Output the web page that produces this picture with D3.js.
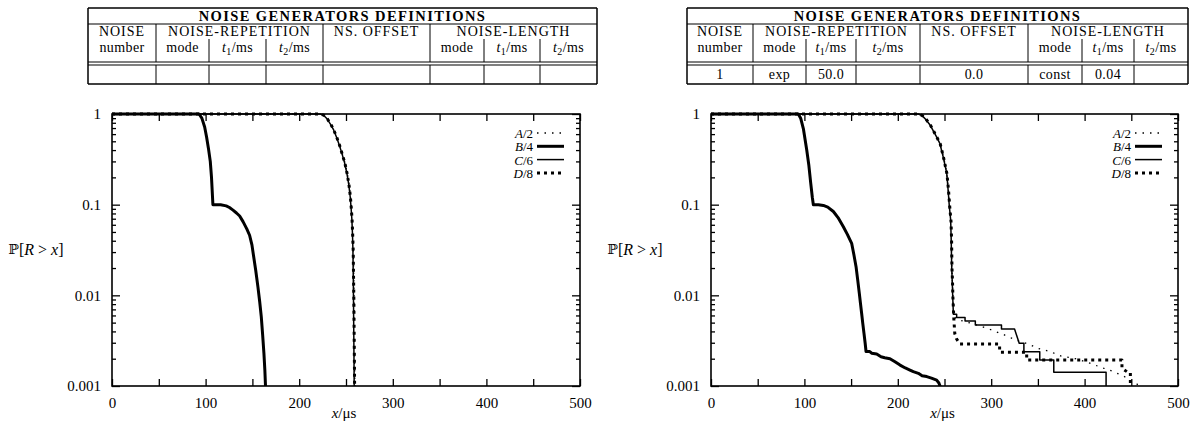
<!DOCTYPE html>
<html>
<head>
<meta charset="utf-8">
<script src="https://cdn.jsdelivr.net/npm/d3@7"></script>
<style>
  body { margin: 0; background: #fff; }
  text { font-family: "Liberation Serif", "DejaVu Serif", serif; fill: #000; }
</style>
</head>
<body>
<div id="chart"></div>
<script>
// series names and tick labels
const seriesNames = ["A/2", "B/4", "C/6", "D/8"];
const xTickLabels = [0, 100, 200, 300, 400, 500];
const yTickLabels = [1, 0.1, 0.01, 0.001];

// table text
const tableTitle = "NOISE GENERATORS DEFINITIONS";
const groupHeaders = ["NOISE", "NOISE-REPETITION", "NS. OFFSET", "NOISE-LENGTH"];
const subHeaders = ["number", "mode", "t1/ms", "t2/ms", "", "mode", "t1/ms", "t2/ms"];
const leftTableRow = ["", "", "", "", "", "", "", ""];
const rightTableRow = ["1", "exp", "50.0", "", "0.0", "const", "0.04", ""];

// left plot curves, [x in us, P[R>x]]
const leftA = [[0,1],[222.8,1],[226.5,0.97],[230.5,0.88],[234,0.77],[237.2,0.66],[240.4,0.55],[243.4,0.45],[246,0.365],[248.9,0.29],[251.4,0.22],[253.4,0.165],[254.9,0.122],[255.9,0.09],[256.7,0.068],[257.4,0.045],[257.9,0.031],[258.3,0.015],[258.6,0.009],[259,0.003],[259.5,0.0008]];
const leftB = [[0,1],[93,1],[96,0.9],[99,0.72],[101,0.56],[103,0.42],[105,0.3],[106.3,0.2],[107,0.145],[107.8,0.1],[110,0.1],[116,0.1],[122,0.097],[125.5,0.093],[129.3,0.087],[133,0.081],[136.4,0.075],[140,0.065],[144,0.054],[147,0.046],[149.5,0.036],[151.3,0.027],[153.5,0.019],[155.9,0.0124],[157.8,0.0085],[159.5,0.0058],[161,0.0036],[162.3,0.0023],[163.3,0.0015],[164,0.001],[164.3,0.0008]];
const leftC = [[0,1],[222.5,1],[226,0.97],[230,0.88],[233.5,0.77],[236.8,0.667],[240,0.55],[243,0.45],[245.6,0.368],[248.5,0.29],[251,0.22],[253,0.165],[254.5,0.122],[255.5,0.09],[256.3,0.068],[257,0.045],[257.4,0.0316],[257.8,0.015],[258,0.0089],[258.4,0.003],[258.8,0.0008]];
const leftD = [[0,1],[222.6,1],[226.2,0.97],[230.2,0.88],[233.8,0.77],[237,0.665],[240.2,0.55],[243.2,0.45],[245.8,0.366],[248.7,0.29],[251.2,0.22],[253.2,0.165],[254.7,0.122],[255.7,0.09],[256.5,0.068],[257.2,0.045],[257.7,0.031],[258.1,0.015],[258.4,0.009],[258.8,0.003],[259.3,0.0008]];

// right plot curves
const rightA = [[0,1],[222.3,1],[226.3,0.96],[230.3,0.87],[235,0.76],[238.5,0.65],[242,0.56],[245.5,0.47],[249,0.34],[252.2,0.23],[254.3,0.14],[255.3,0.1],[256.7,0.07],[257.4,0.04],[257.8,0.021],[258.5,0.014],[259,0.01],[259.6,0.0065],[262,0.0055],[270,0.0052],[285,0.0047],[299,0.0042],[313,0.0037],[327,0.0032],[340,0.0029],[350,0.0026],[363,0.0024],[375,0.00214],[390,0.002],[402,0.00184],[416,0.00163],[431,0.00144],[444,0.00125],[452,0.00107],[461,0.00102],[465,0.0008]];
const rightB = [[0,1],[93.5,1],[96,0.9],[99,0.68],[102.5,0.4],[104.8,0.27],[106.8,0.172],[108.5,0.12],[109.6,0.1],[115,0.1],[120.3,0.098],[125,0.094],[131,0.084],[136,0.072],[141.7,0.057],[146,0.047],[150.6,0.0375],[153,0.028],[155.3,0.0207],[157,0.015],[158.8,0.0105],[160,0.0082],[161.3,0.0063],[162.5,0.0049],[163.8,0.0038],[165,0.003],[166,0.0024],[170,0.0024],[172,0.0023],[177.4,0.00225],[182,0.0021],[186,0.00205],[191.6,0.002],[197,0.00185],[202.4,0.0017],[208,0.00158],[213,0.0015],[216.6,0.00144],[222,0.00138],[226,0.0013],[231,0.00127],[236,0.00122],[241.6,0.00116],[244,0.00108],[245.2,0.001],[246,0.0008]];
const rightC = [[0,1],[222,1],[226,0.96],[230,0.87],[234.5,0.757],[238,0.65],[241.5,0.56],[245,0.475],[248.5,0.34],[251,0.26],[252.4,0.222],[254,0.14],[255.2,0.095],[256.6,0.068],[257.2,0.04],[257.7,0.0207],[258.3,0.014],[258.8,0.0097],[259.5,0.0062],[263,0.0062],[263,0.0057],[272,0.0057],[272,0.0052],[283,0.0052],[283,0.0047],[311,0.0047],[311,0.00425],[325,0.00425],[330,0.00296],[335,0.00296],[335,0.00239],[352,0.00239],[352,0.00194],[367,0.00194],[367,0.00142],[423,0.00142],[423,0.0008]];
const rightD = [[0,1],[222.4,1],[226.4,0.96],[230.4,0.87],[235,0.75],[238.6,0.64],[242,0.55],[245.4,0.47],[249,0.33],[252.6,0.22],[254.4,0.14],[255.6,0.095],[257,0.065],[257.6,0.04],[258,0.02],[258.6,0.014],[259,0.0095],[260,0.0055],[261,0.0038],[263,0.0033],[266.5,0.0029],[309,0.0029],[309,0.00236],[338,0.00236],[338,0.00194],[440,0.00194],[440,0.00157],[447,0.0014],[449,0.0014],[449,0.0008]];

const width = 1191, height = 429;
const svg = d3.select("#chart").append("svg")
    .attr("width", width).attr("height", height);
svg.append("rect").attr("width", width).attr("height", height).attr("fill", "#fff");

const styles = [
    {w: 1.3, dash: "1.5,6"},   // A dotted
    {w: 3, dash: null},        // B thick
    {w: 1.5, dash: null},      // C thin
    {w: 3, dash: "3,4"}        // D thick dotted
];

// ---------- tables ----------
function subText(sel, str) {
    // "t1/ms" -> italic t with subscript
    if (/^t\d\/ms$/.test(str)) {
        sel.append("tspan").style("font-style", "italic").text("t");
        sel.append("tspan").attr("dy", 3).style("font-size", "10px").text(str[1]);
        sel.append("tspan").attr("dy", -3).text("/ms");
    } else {
        sel.text(str);
    }
}

function drawTable(cols, row) {
    const g = svg.append("g");
    const top = 8, titleBot = 24, subTop = 39, headBot = 62, dataTop = 65, bot = 84;
    const L = cols[0], R = cols[cols.length - 1];
    const line = (x1, y1, x2, y2, w) => g.append("line")
        .attr("x1", x1).attr("y1", y1).attr("x2", x2).attr("y2", y2)
        .attr("stroke", "#000").attr("stroke-width", w || 1);

    line(L, top, R, top, 1.5);
    line(L, bot, R, bot, 1.5);
    line(L, top, L, bot, 1.5);
    line(R, top, R, bot, 1.5);
    line(L, titleBot, R, titleBot, 1.2);
    line(L, headBot, R, headBot, 1.2);
    line(L, dataTop, R, dataTop, 1.2);
    [1, 4, 5].forEach(i => line(cols[i], titleBot, cols[i], headBot));
    [2, 3, 6, 7].forEach(i => line(cols[i], subTop, cols[i], headBot));
    d3.range(1, cols.length - 1).forEach(i => line(cols[i], dataTop, cols[i], bot));

    g.append("text").attr("x", (L + R) / 2).attr("y", 21)
        .attr("text-anchor", "middle")
        .style("font-weight", "bold").style("font-size", "14.5px").style("letter-spacing", "1.4px")
        .text(tableTitle);

    const spans = [[0, 1], [1, 4], [4, 5], [5, 8]];
    groupHeaders.forEach((h, i) => {
        g.append("text").attr("x", (cols[spans[i][0]] + cols[spans[i][1]]) / 2).attr("y", 36)
            .attr("text-anchor", "middle")
            .style("font-size", "14px").style("letter-spacing", "1px").text(h);
    });
    subHeaders.forEach((h, i) => {
        const t = g.append("text").attr("x", (cols[i] + cols[i + 1]) / 2).attr("y", 51.5)
            .attr("text-anchor", "middle").style("font-size", "14px").style("letter-spacing", "0.4px");
        subText(t, h);
    });
    row.forEach((v, i) => {
        g.append("text").attr("x", (cols[i] + cols[i + 1]) / 2).attr("y", 79)
            .attr("text-anchor", "middle")
            .style("font-size", "14px").style("letter-spacing", "0.4px").text(v);
    });
}

drawTable([88, 156, 209, 266, 323, 430, 484, 540, 597], leftTableRow);
drawTable([687, 753, 806, 856, 920, 1028, 1082, 1134, 1188], rightTableRow);

// ---------- plots ----------
function drawPlot(x0, x1, series, id) {
    const y0 = 114, y1 = 386;
    const x = d3.scaleLinear().domain([0, 500]).range([x0, x1]);
    const y = d3.scaleLog().domain([0.001, 1]).range([y1, y0]);
    const g = svg.append("g");

    const majorX = d3.range(0, 501, 50);
    const minorY = y.ticks().filter(v => !yTickLabels.some(t => Math.abs(v - t) < 1e-9));

    // x ticks, bottom + top
    g.append("g").attr("transform", `translate(0,${y1})`)
        .call(d3.axisBottom(x).tickValues(majorX).tickSize(-7).tickPadding(11)
            .tickFormat(d => xTickLabels.includes(d) ? d : ""));
    g.append("g").attr("transform", `translate(0,${y0})`)
        .call(d3.axisTop(x).tickValues(majorX).tickSize(-7).tickFormat(""));
    // y ticks, left + right
    g.append("g").attr("transform", `translate(${x0},0)`)
        .call(d3.axisLeft(y).tickValues(yTickLabels).tickSize(-8).tickPadding(11)
            .tickFormat(d => String(d)));
    g.append("g").attr("transform", `translate(${x0},0)`)
        .call(d3.axisLeft(y).tickValues(minorY).tickSize(-4).tickFormat(""));
    g.append("g").attr("transform", `translate(${x1},0)`)
        .call(d3.axisRight(y).tickValues(yTickLabels).tickSize(-8).tickFormat(""));
    g.append("g").attr("transform", `translate(${x1},0)`)
        .call(d3.axisRight(y).tickValues(minorY).tickSize(-4).tickFormat(""));

    g.selectAll(".domain").remove();
    g.selectAll(".tick line").attr("stroke", "#000").attr("stroke-width", 1.3);
    g.selectAll(".tick text").style("font-family", "Liberation Serif").style("font-size", "15px").attr("fill", "#000");

    // clip + curves
    svg.append("clipPath").attr("id", id).append("rect")
        .attr("x", x0).attr("y", y0 - 2).attr("width", x1 - x0).attr("height", y1 - y0 + 2);
    const line = d3.line().x(d => x(d[0])).y(d => y(Math.max(d[1], 0.0008)));
    const cg = g.append("g").attr("clip-path", `url(#${id})`);
    series.forEach((s, i) => {
        cg.append("path").datum(s).attr("d", line)
            .attr("fill", "none").attr("stroke", "#000")
            .attr("stroke-width", styles[i].w)
            .attr("stroke-linejoin", "round")
            .attr("stroke-dasharray", styles[i].dash);
    });

    // frame
    g.append("rect").attr("x", x0).attr("y", y0).attr("width", x1 - x0).attr("height", y1 - y0)
        .attr("fill", "none").attr("stroke", "#000").attr("stroke-width", 1.6);

    // legend
    seriesNames.forEach((name, i) => {
        const ly = 133 + i * 13.3;
        const t = g.append("text").attr("x", x1 - 47).attr("y", ly)
            .attr("text-anchor", "end").attr("dominant-baseline", "central").style("font-size", "13px");
        t.append("tspan").style("font-style", "italic").text(name[0]);
        t.append("tspan").text(name.slice(1));
        g.append("line").attr("x1", x1 - 43).attr("x2", x1 - 16).attr("y1", ly).attr("y2", ly)
            .attr("stroke", "#000").attr("stroke-width", styles[i].w)
            .attr("stroke-dasharray", styles[i].dash);
    });

    // axis labels
    const xl = g.append("text").attr("x", (x0 + x1) / 2 - 2).attr("y", 418)
        .attr("text-anchor", "middle").style("font-size", "15px");
    xl.append("tspan").style("font-style", "italic").text("x");
    xl.append("tspan").text("/μs");

    const yl = g.append("text").attr("x", x0 - 76).attr("y", 249)
        .attr("text-anchor", "middle").attr("dominant-baseline", "central").style("font-size", "16px");
    yl.append("tspan").style("font-family", "DejaVu Serif").style("font-size", "14px").text("ℙ");
    yl.append("tspan").text("[");
    yl.append("tspan").style("font-style", "italic").text("R");
    yl.append("tspan").text(" > ");
    yl.append("tspan").style("font-style", "italic").text("x");
    yl.append("tspan").text("]");
}

drawPlot(112, 580, [leftA, leftB, leftC, leftD], "clipL");
drawPlot(711, 1178, [rightA, rightB, rightC, rightD], "clipR");
</script>
</body>
</html>
